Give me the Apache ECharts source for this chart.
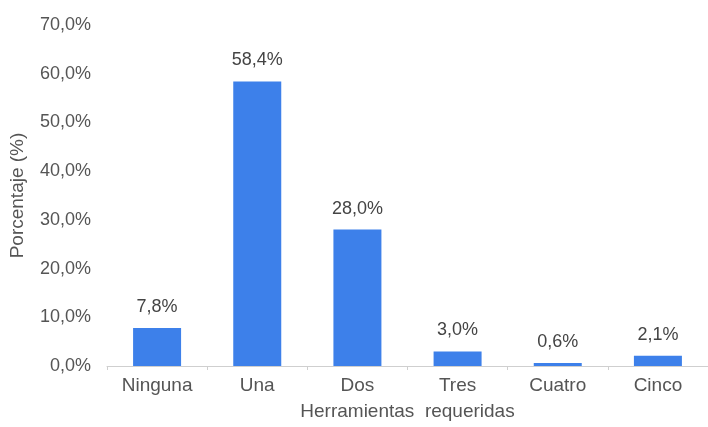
<!DOCTYPE html>
<html><head><meta charset="utf-8">
<script src="https://cdn.jsdelivr.net/npm/echarts@6/dist/echarts.min.js"></script>
<style>html,body{margin:0;padding:0;background:#fff}#c{width:708px;height:427px}</style>
</head><body><div id="c"></div>
<script>
const categories = ["Ninguna", "Una", "Dos", "Tres", "Cuatro", "Cinco"];
const values = [7.8, 58.4, 28.0, 3.0, 0.6, 2.1];
const yTicks = [0, 10, 20, 30, 40, 50, 60, 70];
const fmt = v => v.toFixed(1).replace('.', ',') + '%';
const chart = echarts.init(document.getElementById('c'), null, {renderer: 'canvas'});
chart.setOption({
  animation: false,
  textStyle: {fontFamily: '"Liberation Sans", Arial, sans-serif'},
  grid: {left: 106, right: -6, top: 25, bottom: 61, containLabel: false},
  xAxis: {
    type: 'category', data: categories,
    name: 'Herramientas  requeridas', nameLocation: 'middle', nameGap: 36,
    nameTextStyle: {fontSize: 19, color: '#555'},
    axisLine: {lineStyle: {color: '#cfcfcf'}},
    axisTick: {show: true, length: 4, lineStyle: {color: '#cfcfcf'}},
    axisLabel: {fontSize: 19, color: '#555', margin: 10}
  },
  yAxis: {
    type: 'value', min: yTicks[0], max: yTicks[yTicks.length - 1], interval: 10,
    name: 'Porcentaje (%)', nameLocation: 'middle', nameGap: 80,
    nameTextStyle: {fontSize: 19, color: '#555'},
    axisLine: {show: false}, axisTick: {show: false}, splitLine: {show: false},
    axisLabel: {fontSize: 18, color: '#555', margin: 16, formatter: v => fmt(v)}
  },
  series: [{
    type: 'bar', data: values, barWidth: 48,
    itemStyle: {color: '#3d80ea'},
    label: {show: true, position: 'top', distance: 12, fontSize: 18, color: '#444', formatter: p => fmt(p.value)}
  }]
});
</script></body></html>
